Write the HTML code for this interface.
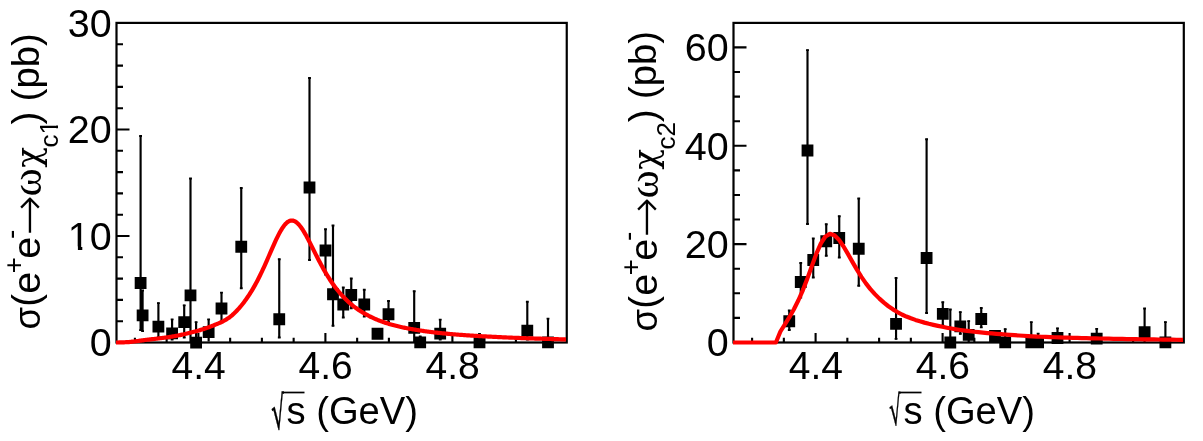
<!DOCTYPE html>
<html><head><meta charset="utf-8"><title>cross sections</title>
<style>
html,body{margin:0;padding:0;background:#fff;}
svg{display:block;}
text{font-family:"Liberation Sans",sans-serif;fill:#000;}
.t{font-size:38.2px;}
.ty{font-size:39.5px;}
.tx{font-size:39px;}
.s{font-size:24.7px;}
.ax{stroke:#000;stroke-width:2.2;fill:none;stroke-linecap:butt;}
.tk{stroke:#000;stroke-width:2.1;fill:none;}
.eb{stroke:#000;stroke-width:2.15;fill:none;}
.cap{stroke:#000;stroke-width:1.8;fill:none;}
.mk{fill:#000;}
.fit{stroke:#ff0000;stroke-width:4.2;fill:none;stroke-linejoin:round;}
</style></head><body>
<svg width="1203" height="441" viewBox="0 0 1203 441">
<rect width="1203" height="441" fill="#fff"/>

<rect class="ax" x="116.5" y="22.9" width="450.25" height="319.6"/>
<path class="tk" d="M134.90,342.5 V337.70 M166.65,342.5 V337.70 M198.40,342.5 V333.00 M230.15,342.5 V337.70 M261.90,342.5 V337.70 M293.65,342.5 V337.70 M325.40,342.5 V333.00 M357.15,342.5 V337.70 M388.90,342.5 V337.70 M420.65,342.5 V337.70 M452.40,342.5 V333.00 M484.15,342.5 V337.70 M515.90,342.5 V337.70 M547.65,342.5 V337.70 M116.5,342.50 H129.50 M116.5,321.20 H123.00 M116.5,299.90 H123.00 M116.5,278.60 H123.00 M116.5,257.30 H123.00 M116.5,236.00 H129.50 M116.5,214.70 H123.00 M116.5,193.40 H123.00 M116.5,172.10 H123.00 M116.5,150.80 H123.00 M116.5,129.50 H129.50 M116.5,108.20 H123.00 M116.5,86.90 H123.00 M116.5,65.60 H123.00 M116.5,44.30 H123.00"/>
<path class="eb" d="M140.60,135.50 V330.70 M142.60,290.00 V331.60 M158.40,302.60 V338.00 M172.10,318.90 V340.00 M184.20,304.80 V338.00 M190.50,178.00 V342.50 M196.10,321.70 V342.60 M208.65,318.90 V341.60 M221.50,292.10 V322.00 M241.25,187.50 V288.75 M279.25,258.75 V338.00 M309.50,77.50 V260.50 M325.50,228.75 V275.00 M333.00,225.00 V326.25 M343.25,287.00 V318.00 M351.25,278.00 V308.75 M364.25,289.25 V317.00 M377.50,330.00 V338.00 M388.50,300.50 V322.50 M414.20,290.75 V342.50 M420.20,336.00 V342.40 M440.20,319.20 V340.00 M479.50,333.40 V342.40 M527.30,301.25 V340.00 M548.00,318.20 V342.40"/>
<path class="cap" d="M139.20,136.00 H142.00 M139.20,330.20 H142.00 M141.20,290.50 H144.00 M141.20,331.10 H144.00 M157.00,303.10 H159.80 M157.00,337.50 H159.80 M170.70,319.40 H173.50 M170.70,339.50 H173.50 M182.80,305.30 H185.60 M182.80,337.50 H185.60 M189.10,178.50 H191.90 M194.70,322.20 H197.50 M207.25,319.40 H210.05 M220.10,292.60 H222.90 M220.10,321.50 H222.90 M239.85,188.00 H242.65 M239.85,288.25 H242.65 M277.85,259.25 H280.65 M277.85,337.50 H280.65 M308.10,78.00 H310.90 M308.10,260.00 H310.90 M324.10,229.25 H326.90 M324.10,274.50 H326.90 M331.60,225.50 H334.40 M331.60,325.75 H334.40 M341.85,287.50 H344.65 M341.85,317.50 H344.65 M349.85,278.50 H352.65 M349.85,308.25 H352.65 M362.85,289.75 H365.65 M362.85,316.50 H365.65 M376.10,330.50 H378.90 M376.10,337.50 H378.90 M387.10,301.00 H389.90 M387.10,322.00 H389.90 M412.80,291.25 H415.60 M418.80,336.50 H421.60 M438.80,319.70 H441.60 M438.80,339.50 H441.60 M478.10,333.90 H480.90 M525.90,301.75 H528.70 M525.90,339.50 H528.70 M546.60,318.70 H549.40"/>
<path class="mk" d="M134.70,277.10 h11.8 v11.8 h-11.8 z M136.70,309.40 h11.8 v11.8 h-11.8 z M152.50,320.70 h11.8 v11.8 h-11.8 z M166.20,327.50 h11.8 v11.8 h-11.8 z M178.30,316.20 h11.8 v11.8 h-11.8 z M184.60,289.50 h11.8 v11.8 h-11.8 z M190.20,336.70 h11.8 v11.8 h-11.8 z M202.75,326.20 h11.8 v11.8 h-11.8 z M215.60,302.60 h11.8 v11.8 h-11.8 z M235.35,240.85 h11.8 v11.8 h-11.8 z M273.35,313.35 h11.8 v11.8 h-11.8 z M303.60,181.60 h11.8 v11.8 h-11.8 z M319.60,244.60 h11.8 v11.8 h-11.8 z M327.10,288.35 h11.8 v11.8 h-11.8 z M337.35,298.60 h11.8 v11.8 h-11.8 z M345.35,289.10 h11.8 v11.8 h-11.8 z M358.35,298.60 h11.8 v11.8 h-11.8 z M371.60,327.85 h11.8 v11.8 h-11.8 z M382.60,308.35 h11.8 v11.8 h-11.8 z M408.30,321.90 h11.8 v11.8 h-11.8 z M414.30,336.50 h11.8 v11.8 h-11.8 z M434.30,327.70 h11.8 v11.8 h-11.8 z M473.60,336.50 h11.8 v11.8 h-11.8 z M521.40,324.80 h11.8 v11.8 h-11.8 z M542.10,336.50 h11.8 v11.8 h-11.8 z"/>
<path class="fit" d="M116.00,342.50 L117.00,342.50 L118.00,342.49 L119.00,342.47 L120.00,342.45 L121.00,342.41 L122.00,342.38 L123.00,342.33 L124.00,342.29 L125.00,342.24 L126.00,342.19 L127.00,342.14 L128.00,342.09 L129.00,342.04 L130.00,341.96 L131.00,341.83 L132.00,341.71 L133.00,341.59 L134.00,341.47 L135.00,341.35 L136.00,341.22 L137.00,341.10 L138.00,340.97 L139.00,340.83 L140.00,340.70 L141.00,340.57 L142.00,340.44 L143.00,340.30 L144.00,340.17 L145.00,340.04 L146.00,339.91 L147.00,339.78 L148.00,339.66 L149.00,339.54 L150.00,339.42 L151.00,339.30 L152.00,339.19 L153.00,339.08 L154.00,338.97 L155.00,338.85 L156.00,338.74 L157.00,338.63 L158.00,338.51 L159.00,338.39 L160.00,338.27 L161.00,338.14 L162.00,338.02 L163.00,337.89 L164.00,337.76 L165.00,337.63 L166.00,337.49 L167.00,337.35 L168.00,337.21 L169.00,337.06 L170.00,336.91 L171.00,336.75 L172.00,336.59 L173.00,336.43 L174.00,336.25 L175.00,336.08 L176.00,335.89 L177.00,335.70 L178.00,335.50 L179.00,335.30 L180.00,335.09 L181.00,334.88 L182.00,334.66 L183.00,334.44 L184.00,334.21 L185.00,333.98 L186.00,333.74 L187.00,333.51 L188.00,333.27 L189.00,333.02 L190.00,332.77 L191.00,332.52 L192.00,332.27 L193.00,332.02 L194.00,331.76 L195.00,331.50 L196.00,331.23 L197.00,330.96 L198.00,330.68 L199.00,330.40 L200.00,330.12 L201.00,329.82 L202.00,329.52 L203.00,329.21 L204.00,328.90 L205.00,328.57 L206.00,328.24 L207.00,327.89 L208.00,327.54 L209.00,327.18 L210.00,326.80 L211.00,326.41 L212.00,326.01 L213.00,325.61 L214.00,325.20 L215.00,324.80 L216.00,324.40 L217.00,323.99 L218.00,323.57 L219.00,323.15 L220.00,322.71 L221.00,322.25 L222.00,321.78 L223.00,321.28 L224.00,320.76 L225.00,320.21 L226.00,319.63 L227.00,319.01 L228.00,318.36 L229.00,317.66 L230.00,316.93 L231.00,316.14 L232.00,315.31 L233.00,314.43 L234.00,313.51 L235.00,312.55 L236.00,311.56 L237.00,310.52 L238.00,309.44 L239.00,308.33 L240.00,307.17 L241.00,305.98 L242.00,304.75 L243.00,303.48 L244.00,302.17 L245.00,300.82 L246.00,299.44 L247.00,298.01 L248.00,296.55 L249.00,295.05 L250.00,293.51 L251.00,291.93 L252.00,290.30 L253.00,288.63 L254.00,286.90 L255.00,285.12 L256.00,283.30 L257.00,281.42 L258.00,279.50 L259.00,277.53 L260.00,275.52 L261.00,273.45 L262.00,271.35 L263.00,269.21 L264.00,267.03 L265.00,264.82 L266.00,262.58 L267.00,260.31 L268.00,258.03 L269.00,255.73 L270.00,253.43 L271.00,251.13 L272.00,248.84 L273.00,246.57 L274.00,244.32 L275.00,242.12 L276.00,239.96 L277.00,237.86 L278.00,235.83 L279.00,233.89 L280.00,232.03 L281.00,230.28 L282.00,228.65 L283.00,227.14 L284.00,225.77 L285.00,224.54 L286.00,223.46 L287.00,222.54 L288.00,221.79 L289.00,221.22 L290.00,220.81 L291.00,220.58 L292.00,220.52 L293.00,220.64 L294.00,220.93 L295.00,221.39 L296.00,222.01 L297.00,222.79 L298.00,223.72 L299.00,224.78 L300.00,225.98 L301.00,227.30 L302.00,228.72 L303.00,230.25 L304.00,231.87 L305.00,233.57 L306.00,235.34 L307.00,237.16 L308.00,239.04 L309.00,240.95 L310.00,242.90 L311.00,244.87 L312.00,246.86 L313.00,248.86 L314.00,250.85 L315.00,252.85 L316.00,254.83 L317.00,256.80 L318.00,258.75 L319.00,260.68 L320.00,262.58 L321.00,264.46 L322.00,266.30 L323.00,268.11 L324.00,269.89 L325.00,271.63 L326.00,273.33 L327.00,275.00 L328.00,276.62 L329.00,278.21 L330.00,279.76 L331.00,281.27 L332.00,282.75 L333.00,284.18 L334.00,285.57 L335.00,286.93 L336.00,288.25 L337.00,289.54 L338.00,290.79 L339.00,292.00 L340.00,293.18 L341.00,294.33 L342.00,295.44 L343.00,296.52 L344.00,297.57 L345.00,298.59 L346.00,299.58 L347.00,300.54 L348.00,301.48 L349.00,302.38 L350.00,303.27 L351.00,304.12 L352.00,304.95 L353.00,305.76 L354.00,306.55 L355.00,307.31 L356.00,308.05 L357.00,308.77 L358.00,309.47 L359.00,310.15 L360.00,310.81 L361.00,311.45 L362.00,312.08 L363.00,312.68 L364.00,313.27 L365.00,313.85 L366.00,314.41 L367.00,314.95 L368.00,315.48 L369.00,316.00 L370.00,316.50 L371.00,316.99 L372.00,317.46 L373.00,317.92 L374.00,318.38 L375.00,318.82 L376.00,319.24 L377.00,319.66 L378.00,320.07 L379.00,320.46 L380.00,320.85 L381.00,321.23 L382.00,321.59 L383.00,321.95 L384.00,322.30 L385.00,322.64 L386.00,322.96 L387.00,323.28 L388.00,323.60 L389.00,323.90 L390.00,324.20 L391.00,324.49 L392.00,324.77 L393.00,325.04 L394.00,325.31 L395.00,325.57 L396.00,325.82 L397.00,326.07 L398.00,326.31 L399.00,326.55 L400.00,326.78 L401.00,327.01 L402.00,327.23 L403.00,327.44 L404.00,327.65 L405.00,327.86 L406.00,328.06 L407.00,328.26 L408.00,328.45 L409.00,328.64 L410.00,328.82 L411.00,329.00 L412.00,329.18 L413.00,329.36 L414.00,329.53 L415.00,329.69 L416.00,329.86 L417.00,330.02 L418.00,330.18 L419.00,330.34 L420.00,330.49 L421.00,330.64 L422.00,330.79 L423.00,330.93 L424.00,331.08 L425.00,331.22 L426.00,331.35 L427.00,331.49 L428.00,331.62 L429.00,331.75 L430.00,331.87 L431.00,332.00 L432.00,332.12 L433.00,332.24 L434.00,332.36 L435.00,332.47 L436.00,332.59 L437.00,332.70 L438.00,332.81 L439.00,332.91 L440.00,333.02 L441.00,333.12 L442.00,333.22 L443.00,333.32 L444.00,333.42 L445.00,333.52 L446.00,333.61 L447.00,333.71 L448.00,333.80 L449.00,333.89 L450.00,333.98 L451.00,334.07 L452.00,334.15 L453.00,334.24 L454.00,334.32 L455.00,334.40 L456.00,334.48 L457.00,334.56 L458.00,334.64 L459.00,334.72 L460.00,334.80 L461.00,334.87 L462.00,334.94 L463.00,335.02 L464.00,335.09 L465.00,335.16 L466.00,335.23 L467.00,335.30 L468.00,335.37 L469.00,335.43 L470.00,335.50 L471.00,335.57 L472.00,335.63 L473.00,335.69 L474.00,335.76 L475.00,335.82 L476.00,335.88 L477.00,335.94 L478.00,336.00 L479.00,336.06 L480.00,336.12 L481.00,336.18 L482.00,336.23 L483.00,336.29 L484.00,336.35 L485.00,336.40 L486.00,336.46 L487.00,336.51 L488.00,336.56 L489.00,336.62 L490.00,336.67 L491.00,336.72 L492.00,336.77 L493.00,336.82 L494.00,336.87 L495.00,336.92 L496.00,336.97 L497.00,337.02 L498.00,337.07 L499.00,337.12 L500.00,337.16 L501.00,337.21 L502.00,337.26 L503.00,337.30 L504.00,337.35 L505.00,337.39 L506.00,337.44 L507.00,337.48 L508.00,337.52 L509.00,337.57 L510.00,337.61 L511.00,337.65 L512.00,337.69 L513.00,337.73 L514.00,337.77 L515.00,337.81 L516.00,337.85 L517.00,337.89 L518.00,337.93 L519.00,337.97 L520.00,338.01 L521.00,338.05 L522.00,338.08 L523.00,338.12 L524.00,338.16 L525.00,338.19 L526.00,338.23 L527.00,338.27 L528.00,338.30 L529.00,338.34 L530.00,338.37 L531.00,338.40 L532.00,338.44 L533.00,338.47 L534.00,338.50 L535.00,338.54 L536.00,338.57 L537.00,338.60 L538.00,338.63 L539.00,338.66 L540.00,338.69 L541.00,338.72 L542.00,338.75 L543.00,338.78 L544.00,338.81 L545.00,338.84 L546.00,338.87 L547.00,338.90 L548.00,338.93 L549.00,338.96 L550.00,338.99 L551.00,339.01 L552.00,339.04 L553.00,339.07 L554.00,339.10 L555.00,339.12 L556.00,339.15 L557.00,339.18 L558.00,339.20 L559.00,339.23 L560.00,339.25 L561.00,339.28 L562.00,339.30 L563.00,339.33 L564.00,339.35 L565.00,339.38 L566.00,339.40"/>
<text class="ty" x="111.7" y="356.2" text-anchor="end">0</text>
<text class="ty" x="111.7" y="249.7" text-anchor="end">10</text>
<path fill="#fff" d="M69.0,246.5 h8.9 v3.8 h-8.9z M82.3,246.5 h7.2 v3.8 h-7.2z"/>
<text class="ty" x="111.7" y="143.2" text-anchor="end">20</text>
<text class="ty" x="111.7" y="36.7" text-anchor="end">30</text>
<text class="tx" x="198.7" y="379.3" text-anchor="middle">4.4</text>
<text class="tx" x="325.7" y="379.3" text-anchor="middle">4.6</text>
<text class="tx" x="452.7" y="379.3" text-anchor="middle">4.8</text>
<text transform="matrix(0.477,0,0.0827,1,272.7,429.3)" style="font-family:'DejaVu Sans',sans-serif;font-size:46.4px" stroke="#000" stroke-width="0.5">√</text>
<path d="M282.6,392.5 H304.5" fill="none" stroke="#000" stroke-width="1.7"/>
<text class="t" x="286.5" y="424">s (GeV)</text>
<g transform="translate(39.2,0) rotate(-90)">
<text x="-329.6" y="1.0" style="font-family:'Liberation Sans',sans-serif;font-size:36.5px">σ</text>
<text x="-306.7" y="0.0" style="font-family:'Liberation Sans',sans-serif;font-size:38.5px">(</text>
<text x="-293.8" y="0.3" style="font-family:'Liberation Sans',sans-serif;font-size:39.5px">e</text>
<text x="-273.3" y="-16.4" style="font-family:'Liberation Sans',sans-serif;font-size:27.5px">+</text>
<text x="-258.7" y="0.3" style="font-family:'Liberation Sans',sans-serif;font-size:39.5px">e</text>
<text x="-239.0" y="-19.7" style="font-family:'Liberation Sans',sans-serif;font-size:28px">-</text>
<text x="-235.4" y="5.3" style="font-family:'DejaVu Sans',sans-serif;font-size:48px;font-weight:200">→</text>
<text x="-196.4" y="1.4" style="font-family:'Liberation Serif',serif;font-size:43px">ω</text>
<text x="-167.8" y="0.5" style="font-family:'DejaVu Serif',serif;font-size:34.4px">χ</text>
<text x="-147.6" y="19.2" style="font-family:'Liberation Sans',sans-serif;font-size:26px">c1</text>
<text x="-124.5" y="0.0" style="font-family:'Liberation Sans',sans-serif;font-size:38.5px">)</text>
<text x="-101.2" y="0.0" style="font-family:'Liberation Sans',sans-serif;font-size:38.2px">(pb)</text>
<path fill="#fff" d="M-133.6,16.5 h5.4 v3.8 h-5.4z M-125.6,16.5 h5.6 v3.8 h-5.6z"/>
</g>
<rect class="ax" x="733.5" y="22.9" width="450.29999999999995" height="319.6"/>
<path class="tk" d="M752.10,342.5 V337.70 M783.85,342.5 V337.70 M815.60,342.5 V333.00 M847.35,342.5 V337.70 M879.10,342.5 V337.70 M910.85,342.5 V337.70 M942.60,342.5 V333.00 M974.35,342.5 V337.70 M1006.10,342.5 V337.70 M1037.85,342.5 V337.70 M1069.60,342.5 V333.00 M1101.35,342.5 V337.70 M1133.10,342.5 V337.70 M1164.85,342.5 V337.70 M733.5,342.50 H746.50 M733.5,317.91 H740.00 M733.5,293.32 H740.00 M733.5,268.73 H740.00 M733.5,244.14 H746.50 M733.5,219.55 H740.00 M733.5,194.96 H740.00 M733.5,170.37 H740.00 M733.5,145.78 H746.50 M733.5,121.19 H740.00 M733.5,96.60 H740.00 M733.5,72.01 H740.00 M733.5,47.42 H746.50"/>
<path class="eb" d="M789.25,310.00 V330.50 M800.75,262.50 V298.00 M807.50,49.60 V224.50 M813.25,238.00 V278.00 M826.25,223.75 V256.25 M839.25,215.75 V258.00 M858.75,198.00 V286.25 M896.05,277.50 V339.40 M926.60,138.75 V313.50 M942.80,301.75 V326.00 M950.30,309.00 V342.50 M960.30,311.60 V334.40 M968.70,320.60 V342.00 M981.25,307.50 V327.80 M995.00,333.00 V340.00 M1005.20,328.60 V342.40 M1031.30,321.70 V342.40 M1038.10,333.10 V342.40 M1057.50,327.80 V342.00 M1096.70,328.40 V342.00 M1144.60,308.00 V342.00 M1165.40,321.60 V342.40"/>
<path class="cap" d="M787.85,310.50 H790.65 M787.85,330.00 H790.65 M799.35,263.00 H802.15 M799.35,297.50 H802.15 M806.10,50.10 H808.90 M806.10,224.00 H808.90 M811.85,238.50 H814.65 M811.85,277.50 H814.65 M824.85,224.25 H827.65 M824.85,255.75 H827.65 M837.85,216.25 H840.65 M837.85,257.50 H840.65 M857.35,198.50 H860.15 M857.35,285.75 H860.15 M894.65,278.00 H897.45 M894.65,338.90 H897.45 M925.20,139.25 H928.00 M925.20,313.00 H928.00 M941.40,302.25 H944.20 M941.40,325.50 H944.20 M948.90,309.50 H951.70 M958.90,312.10 H961.70 M958.90,333.90 H961.70 M967.30,321.10 H970.10 M979.85,308.00 H982.65 M979.85,327.30 H982.65 M993.60,333.50 H996.40 M993.60,339.50 H996.40 M1003.80,329.10 H1006.60 M1029.90,322.20 H1032.70 M1036.70,333.60 H1039.50 M1056.10,328.30 H1058.90 M1095.30,328.90 H1098.10 M1143.20,308.50 H1146.00 M1164.00,322.10 H1166.80"/>
<path class="mk" d="M783.35,315.35 h11.8 v11.8 h-11.8 z M794.85,276.10 h11.8 v11.8 h-11.8 z M801.60,144.60 h11.8 v11.8 h-11.8 z M807.35,254.10 h11.8 v11.8 h-11.8 z M820.35,235.35 h11.8 v11.8 h-11.8 z M833.35,232.10 h11.8 v11.8 h-11.8 z M852.85,242.85 h11.8 v11.8 h-11.8 z M890.15,317.90 h11.8 v11.8 h-11.8 z M920.70,252.10 h11.8 v11.8 h-11.8 z M936.90,307.90 h11.8 v11.8 h-11.8 z M944.40,336.60 h11.8 v11.8 h-11.8 z M954.40,320.50 h11.8 v11.8 h-11.8 z M962.80,329.00 h11.8 v11.8 h-11.8 z M975.35,313.10 h11.8 v11.8 h-11.8 z M989.10,330.10 h11.8 v11.8 h-11.8 z M999.30,336.50 h11.8 v11.8 h-11.8 z M1025.40,336.50 h11.8 v11.8 h-11.8 z M1032.20,336.50 h11.8 v11.8 h-11.8 z M1051.60,332.10 h11.8 v11.8 h-11.8 z M1090.80,332.70 h11.8 v11.8 h-11.8 z M1138.70,326.30 h11.8 v11.8 h-11.8 z M1159.50,336.50 h11.8 v11.8 h-11.8 z"/>
<path class="fit" d="M733.0,342.5 L775.9,342.5 L775.90,342.50 L780.40,331.50 L784.90,324.36 L789.40,317.16 L793.90,309.21 L798.40,300.24 L802.90,290.04 L807.40,278.40 L811.90,265.88 L816.40,253.64 L820.90,243.33 L825.40,236.49 L829.90,233.89 L834.40,235.21 L838.90,239.67 L843.40,246.24 L847.90,253.90 L852.40,261.88 L856.90,269.65 L861.40,276.91 L865.90,283.39 L870.40,289.09 L874.90,294.12 L879.40,298.63 L883.90,302.68 L888.40,306.23 L892.90,309.34 L897.40,312.08 L901.90,314.48 L906.40,316.54 L910.90,318.32 L915.40,319.89 L919.90,321.32 L924.40,322.64 L928.90,323.83 L933.40,324.91 L937.90,325.90 L942.40,326.81 L946.90,327.70 L951.40,328.54 L955.90,329.32 L960.40,330.02 L964.90,330.63 L969.40,331.20 L973.90,331.72 L978.40,332.20 L982.90,332.65 L987.40,333.07 L991.90,333.46 L996.40,333.83 L1000.90,334.18 L1005.40,334.52 L1009.90,334.85 L1014.40,335.17 L1018.90,335.48 L1023.40,335.77 L1027.90,336.04 L1032.40,336.30 L1036.90,336.53 L1041.40,336.74 L1045.90,336.93 L1050.40,337.10 L1054.90,337.26 L1059.40,337.41 L1063.90,337.56 L1068.40,337.70 L1072.90,337.83 L1077.40,337.96 L1081.90,338.08 L1086.40,338.19 L1090.90,338.30 L1095.40,338.41 L1099.90,338.51 L1104.40,338.61 L1108.90,338.70 L1113.40,338.79 L1117.90,338.87 L1122.40,338.95 L1126.90,339.03 L1131.40,339.11 L1135.90,339.18 L1140.40,339.25 L1144.90,339.32 L1149.40,339.38 L1153.90,339.45 L1158.40,339.51 L1162.90,339.57 L1167.40,339.62 L1171.90,339.68 L1176.40,339.73 L1180.90,339.78 L1183.00,339.80"/>
<text class="ty" x="728.7" y="356.2" text-anchor="end">0</text>
<text class="ty" x="728.7" y="257.8" text-anchor="end">20</text>
<text class="ty" x="728.7" y="159.5" text-anchor="end">40</text>
<text class="ty" x="728.7" y="61.1" text-anchor="end">60</text>
<text class="tx" x="815.9" y="379.3" text-anchor="middle">4.4</text>
<text class="tx" x="942.9" y="379.3" text-anchor="middle">4.6</text>
<text class="tx" x="1069.9" y="379.3" text-anchor="middle">4.8</text>
<text transform="matrix(0.477,0,0.0827,1,890.5,424.9)" style="font-family:'DejaVu Sans',sans-serif;font-size:41.1px" stroke="#000" stroke-width="0.5">√</text>
<path d="M899.6,392.5 H921.5" fill="none" stroke="#000" stroke-width="1.7"/>
<text class="t" x="903.5" y="424">s (GeV)</text>
<g transform="translate(656.2,0) rotate(-90)">
<text x="-331.6" y="1.0" style="font-family:'Liberation Sans',sans-serif;font-size:36.5px">σ</text>
<text x="-308.7" y="0.0" style="font-family:'Liberation Sans',sans-serif;font-size:38.5px">(</text>
<text x="-295.8" y="0.3" style="font-family:'Liberation Sans',sans-serif;font-size:39.5px">e</text>
<text x="-275.3" y="-16.4" style="font-family:'Liberation Sans',sans-serif;font-size:27.5px">+</text>
<text x="-260.7" y="0.3" style="font-family:'Liberation Sans',sans-serif;font-size:39.5px">e</text>
<text x="-241.0" y="-19.7" style="font-family:'Liberation Sans',sans-serif;font-size:28px">-</text>
<text x="-237.4" y="5.3" style="font-family:'DejaVu Sans',sans-serif;font-size:48px;font-weight:200">→</text>
<text x="-198.4" y="1.4" style="font-family:'Liberation Serif',serif;font-size:43px">ω</text>
<text x="-169.8" y="0.5" style="font-family:'DejaVu Serif',serif;font-size:34.4px">χ</text>
<text x="-149.6" y="19.2" style="font-family:'Liberation Sans',sans-serif;font-size:26px">c2</text>
<text x="-122.2" y="0.0" style="font-family:'Liberation Sans',sans-serif;font-size:38.5px">)</text>
<text x="-98.9" y="0.0" style="font-family:'Liberation Sans',sans-serif;font-size:38.2px">(pb)</text>
</g>
</svg></body></html>
